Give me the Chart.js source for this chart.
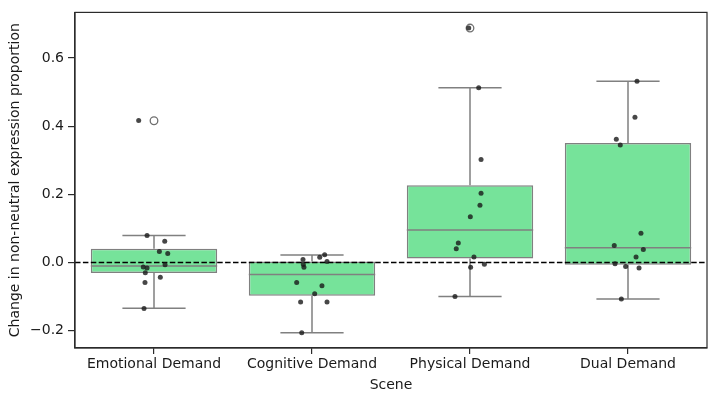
<!DOCTYPE html>
<html>
<head>
<meta charset="utf-8">
<script src="https://cdn.jsdelivr.net/npm/chart.js@4/dist/chart.umd.min.js"></script>
<style>
  html, body { margin: 0; padding: 0; background: #ffffff; }
  #wrap { width: 713px; height: 398px; position: relative; }
</style>
</head>
<body>
<div id="wrap"><canvas id="c"></canvas></div>
<script>
// ---- data ----
const categories = ['Emotional Demand', 'Cognitive Demand', 'Physical Demand', 'Dual Demand'];
const yTicks = [-0.2, 0.0, 0.2, 0.4, 0.6];

// box statistics per category
const whiskerLow  = [-0.134, -0.206, -0.100, -0.107];
const q1          = [-0.031, -0.098,  0.012, -0.007];
const median      = [-0.010, -0.035,  0.095,  0.043];
const q3          = [ 0.040,  0.003,  0.227,  0.351];
const whiskerHigh = [ 0.079,  0.022,  0.513,  0.532];
const outliers    = [[0.416], [], [0.688], []];

// individual observations (strip plot) and their horizontal jitter
const emotionalPts = [0.417, 0.079, 0.062, 0.032, 0.026, -0.013, -0.016, -0.007, -0.030, -0.043, -0.059, -0.135];
const emotionalJit = [-0.097, -0.044, 0.068, 0.034, 0.087, -0.068, -0.044, 0.070, -0.055, 0.040, -0.057, -0.063];
const cognitivePts = [0.023, 0.015, 0.009, 0.003, -0.006, -0.014, -0.059, -0.068, -0.092, -0.116, -0.116, -0.206];
const cognitiveJit = [0.080, 0.049, -0.057, 0.095, -0.055, -0.051, -0.097, 0.063, 0.017, -0.072, 0.095, -0.065];
const physicalPts  = [0.688, 0.513, 0.302, 0.203, 0.168, 0.134, 0.057, 0.040, 0.016, -0.014, -0.005, -0.100];
const physicalJit  = [-0.008, 0.055, 0.070, 0.070, 0.063, 0.002, -0.074, -0.087, 0.025, 0.004, 0.091, -0.095];
const dualPts      = [0.532, 0.426, 0.362, 0.345, 0.086, 0.050, 0.038, 0.016, -0.004, -0.012, -0.016, -0.107];
const dualJit      = [0.057, 0.044, -0.074, -0.049, 0.082, -0.087, 0.097, 0.051, -0.082, -0.015, 0.070, -0.042];

const referenceLine = 0.0;
const xTitle = 'Scene';
const yTitle = 'Change in non-neutral expression proportion';

// ---- build datasets from the arrays ----
const ptsByCat = [emotionalPts, cognitivePts, physicalPts, dualPts];
const jitByCat = [emotionalJit, cognitiveJit, physicalJit, dualJit];
const stripData = [];
ptsByCat.forEach((arr, i) => arr.forEach((v, k) => stripData.push({ x: i + jitByCat[i][k], y: v })));
const outlierData = [];
outliers.forEach((arr, i) => arr.forEach(v => outlierData.push({ x: i, y: v })));
const boxData = categories.map((c, i) => ({ x: i, y: [q1[i], q3[i]] }));

const EDGE = '#808080';
const FONT = { family: 'DejaVu Sans', size: 14 };
const TEXT = '#1a1a1a';
const AXIS = '#2b2b2b';

const boxParts = {
  id: 'boxParts',
  afterDatasetDraw(chart, args) {
    if (args.meta.type !== 'bar') return;
    const ctx = chart.ctx, xs = chart.scales.x, ys = chart.scales.y, a = chart.chartArea;
    ctx.save();
    ctx.strokeStyle = EDGE;
    ctx.lineWidth = 1.5;
    categories.forEach((c, i) => {
      const cx = xs.getPixelForValue(i);
      const capL = xs.getPixelForValue(i - 0.2), capR = xs.getPixelForValue(i + 0.2);
      const bL = xs.getPixelForValue(i - 0.4), bR = xs.getPixelForValue(i + 0.4);
      ctx.beginPath();
      ctx.moveTo(cx, ys.getPixelForValue(q1[i]));
      ctx.lineTo(cx, ys.getPixelForValue(whiskerLow[i]));
      ctx.moveTo(cx, ys.getPixelForValue(q3[i]));
      ctx.lineTo(cx, ys.getPixelForValue(whiskerHigh[i]));
      ctx.moveTo(capL, ys.getPixelForValue(whiskerLow[i]));
      ctx.lineTo(capR, ys.getPixelForValue(whiskerLow[i]));
      ctx.moveTo(capL, ys.getPixelForValue(whiskerHigh[i]));
      ctx.lineTo(capR, ys.getPixelForValue(whiskerHigh[i]));
      ctx.moveTo(bL, ys.getPixelForValue(median[i]));
      ctx.lineTo(bR, ys.getPixelForValue(median[i]));
      ctx.stroke();
    });
    // dashed reference line
    const y0 = ys.getPixelForValue(referenceLine);
    ctx.strokeStyle = '#000000';
    ctx.lineWidth = 1.5;
    ctx.setLineDash([5.5, 2.4]);
    ctx.beginPath();
    ctx.moveTo(a.left, y0);
    ctx.lineTo(a.right, y0);
    ctx.stroke();
    ctx.restore();
  },
  afterDraw(chart) {
    const ctx = chart.ctx, a = chart.chartArea;
    ctx.save();
    ctx.strokeStyle = AXIS;
    ctx.lineWidth = 1.2;
    ctx.strokeRect(a.left, a.top, a.right - a.left, a.bottom - a.top);
    ctx.restore();
  }
};

new Chart(document.getElementById('c'), {
  type: 'bar',
  data: {
    datasets: [
      {
        type: 'bar',
        data: boxData,
        backgroundColor: 'rgb(118,227,154)',
        borderColor: EDGE,
        borderWidth: 1.5,
        borderSkipped: false,
        barPercentage: 0.8,
        categoryPercentage: 1.0,
        order: 3
      },
      {
        type: 'scatter',
        data: outlierData,
        pointRadius: 3.8,
        pointBackgroundColor: 'rgba(255,255,255,0)',
        pointBorderColor: '#707070',
        pointBorderWidth: 1.3,
        order: 2
      },
      {
        type: 'scatter',
        data: stripData,
        pointRadius: 2.5,
        pointBackgroundColor: 'rgba(25,25,25,0.8)',
        pointBorderColor: 'rgba(25,25,25,0)',
        pointBorderWidth: 0,
        order: 1
      }
    ]
  },
  options: {
    responsive: true,
    maintainAspectRatio: false,
    animation: false,
    layout: { padding: { top: 7, right: 6, left: 0, bottom: 0 } },
    plugins: { legend: { display: false }, tooltip: { enabled: false } },
    scales: {
      x: {
        type: 'linear',
        min: -0.5,
        max: 3.5,
        offset: false,
        afterBuildTicks: s => { s.ticks = categories.map((c, i) => ({ value: i })); },
        afterFit: s => { s.height = 50; },
        ticks: {
          callback: v => categories[v],
          autoSkip: false, maxRotation: 0, minRotation: 0,
          font: FONT, color: TEXT, padding: 2
        },
        grid: { display: true, drawOnChartArea: false, drawTicks: true, tickLength: 6, color: AXIS, lineWidth: 1.2, offset: false },
        border: { display: true, color: AXIS, width: 1.2 },
        title: { display: true, text: xTitle, font: FONT, color: TEXT, padding: { top: 0, bottom: 4.6 } }
      },
      y: {
        type: 'linear',
        min: -0.251,
        max: 0.734,
        afterBuildTicks: s => { s.ticks = yTicks.map(v => ({ value: v })); },
        afterFit: s => { s.width = 75; },
        ticks: {
          callback: v => v.toFixed(1).replace('-', '\u2212'),
          font: FONT, color: TEXT, padding: 4
        },
        grid: { display: true, drawOnChartArea: false, drawTicks: true, tickLength: 7, color: AXIS, lineWidth: 1.2 },
        border: { display: true, color: AXIS, width: 1.2 },
        title: { display: true, text: yTitle, font: FONT, color: TEXT, padding: { top: 6.6, bottom: 0 } }
      }
    }
  },
  plugins: [boxParts]
});
</script>
</body>
</html>
